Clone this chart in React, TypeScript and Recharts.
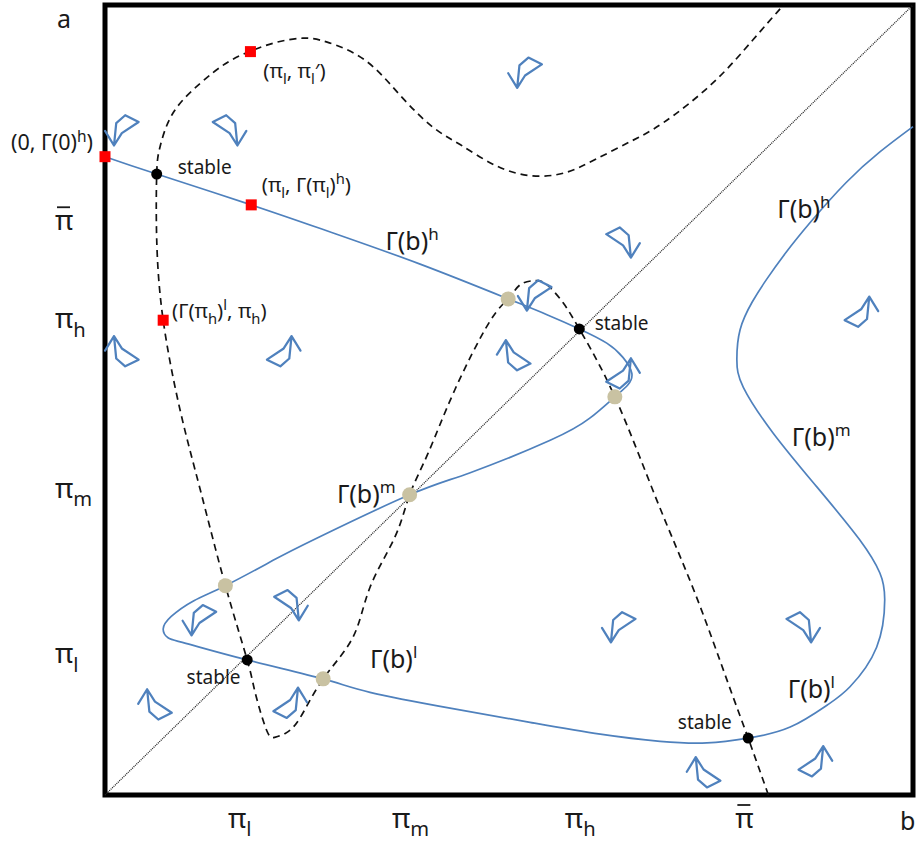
import React from 'react'
import {
  ComposedChart, Line, Scatter, XAxis, YAxis, ReferenceArea, ReferenceLine,
} from 'recharts'

const FONT = '"Noto Sans", "Open Sans", sans-serif'
const BLUE = '#4F81BD'
const INK = '#1a1a1a'

// axis ticks (positions in the 0..100 plane); "bar" is π with a macron
const X_TICKS = [16.7, 37.0, 58.4, 79.5]
const X_TICK_LABELS = ['π_{l}', 'π_{m}', 'π_{h}', 'bar']
const Y_TICKS = [17.7, 38.6, 60.1, 72.5]
const Y_TICK_LABELS = ['π_{l}', 'π_{m}', 'π_{h}', 'bar']

// dashed nullcline, traced bottom -> top
const NULLCLINE = [
  { x: 82.1, y: 0 }, { x: 79.6, y: 7.2 }, { x: 77.1, y: 14.2 }, { x: 73.0, y: 25.6 },
  { x: 68.3, y: 37.3 }, { x: 63.1, y: 50.4 }, { x: 58.7, y: 59.0 }, { x: 56.7, y: 62.3 },
  { x: 54.7, y: 64.6 }, { x: 53.2, y: 65.1 }, { x: 51.4, y: 64.6 }, { x: 49.9, y: 62.8 },
  { x: 47.6, y: 59.9 }, { x: 43.3, y: 51.3 }, { x: 40.0, y: 43.3 }, { x: 37.7, y: 38.0 },
  { x: 35.9, y: 32.7 }, { x: 32.8, y: 26.3 }, { x: 30.7, y: 20.0 }, { x: 27.0, y: 14.7 },
  { x: 24.1, y: 9.7 }, { x: 22.3, y: 7.8 }, { x: 21.0, y: 7.3 }, { x: 20.0, y: 8.2 },
  { x: 18.6, y: 12.9 }, { x: 17.6, y: 17.1 }, { x: 14.9, y: 26.5 }, { x: 11.8, y: 38.6 },
  { x: 9.3, y: 48.7 }, { x: 7.2, y: 60.1 }, { x: 6.4, y: 70.3 }, { x: 6.4, y: 78.6 },
  { x: 6.8, y: 82.0 }, { x: 8.4, y: 86.3 }, { x: 11.8, y: 90.1 }, { x: 15.1, y: 92.7 },
  { x: 18.1, y: 94.2 }, { x: 21.3, y: 95.3 }, { x: 24.5, y: 95.8 }, { x: 27.5, y: 95.3 },
  { x: 32.2, y: 93.0 }, { x: 36.5, y: 88.6 }, { x: 40.5, y: 84.6 }, { x: 44.0, y: 82.3 },
  { x: 48.3, y: 79.7 }, { x: 52.6, y: 78.4 }, { x: 56.7, y: 78.7 }, { x: 60.6, y: 80.4 },
  { x: 65.0, y: 82.7 }, { x: 69.1, y: 85.1 }, { x: 75.2, y: 90.1 }, { x: 80.2, y: 95.6 },
  { x: 83.2, y: 99.1 }, { x: 84.0, y: 100 },
]

// Γ(b): h, m and l branches as one continuous curve
const GAMMA = [
  { x: 0, y: 80.8 }, { x: 6.4, y: 78.6 }, { x: 18.1, y: 74.7 }, { x: 27.8, y: 71.3 },
  { x: 39.0, y: 67.2 }, { x: 49.9, y: 62.8 }, { x: 54.7, y: 60.8 }, { x: 58.7, y: 59.0 },
  { x: 62.1, y: 57.2 }, { x: 64.1, y: 55.4 }, { x: 65.2, y: 53.4 }, { x: 64.7, y: 51.9 },
  { x: 63.1, y: 50.4 }, { x: 60.0, y: 47.7 }, { x: 55.1, y: 44.9 }, { x: 45.2, y: 40.8 },
  { x: 37.7, y: 38.0 }, { x: 26.2, y: 32.5 }, { x: 20.8, y: 29.7 }, { x: 14.9, y: 26.5 },
  { x: 11.0, y: 24.6 }, { x: 8.2, y: 22.6 }, { x: 7.2, y: 21.0 }, { x: 7.8, y: 19.9 },
  { x: 10.0, y: 19.2 }, { x: 17.6, y: 17.1 }, { x: 27.0, y: 14.7 }, { x: 32.8, y: 13.0 },
  { x: 42.7, y: 11.0 }, { x: 52.6, y: 9.2 }, { x: 61.3, y: 7.7 }, { x: 68.7, y: 6.8 },
  { x: 74.5, y: 6.6 }, { x: 79.6, y: 7.2 }, { x: 84.8, y: 8.6 }, { x: 89.4, y: 11.4 },
  { x: 92.2, y: 13.7 }, { x: 95.5, y: 18.7 }, { x: 96.5, y: 24.7 }, { x: 95.9, y: 28.1 },
  { x: 93.4, y: 32.3 }, { x: 88.1, y: 39.0 }, { x: 82.7, y: 45.8 }, { x: 79.0, y: 51.6 },
  { x: 78.2, y: 55.1 }, { x: 78.6, y: 58.9 }, { x: 80.1, y: 62.4 }, { x: 81.9, y: 65.3 },
  { x: 84.3, y: 68.7 }, { x: 87.3, y: 72.5 }, { x: 91.7, y: 77.5 }, { x: 95.9, y: 81.4 },
  { x: 100, y: 84.6 },
]

const RED_POINTS = [
  { x: 0, y: 80.8 }, { x: 18.1, y: 74.7 }, { x: 18.0, y: 94.1 }, { x: 7.2, y: 60.1 },
]
const STABLE_POINTS = [
  { x: 6.4, y: 78.6 }, { x: 58.7, y: 59.0 }, { x: 17.6, y: 17.1 }, { x: 79.6, y: 7.2 },
]
const CROSSINGS = [
  { x: 49.9, y: 62.8 }, { x: 63.1, y: 50.4 }, { x: 37.7, y: 38.0 }, { x: 14.9, y: 26.5 },
  { x: 27.0, y: 14.7 },
]

// direction markers: sx = +1 right / -1 left, sy = +1 down / -1 up
const FLOW_ARROWS = [
  { x: 2.5, y: 84.2, sx: 1, sy: 1 }, { x: 15.0, y: 84.2, sx: -1, sy: 1 },
  { x: 52.4, y: 91.5, sx: 1, sy: 1 }, { x: 63.7, y: 70.0, sx: -1, sy: 1 },
  { x: 2.5, y: 56.1, sx: 1, sy: -1 }, { x: 21.7, y: 56.1, sx: -1, sy: -1 },
  { x: 51.0, y: 55.6, sx: 1, sy: -1 }, { x: 53.6, y: 63.3, sx: 1, sy: 1 },
  { x: 63.7, y: 53.3, sx: -1, sy: -1 }, { x: 93.2, y: 61.1, sx: -1, sy: -1 },
  { x: 12.1, y: 22.2, sx: 1, sy: 1 }, { x: 22.6, y: 24.1, sx: -1, sy: 1 },
  { x: 6.6, y: 11.4, sx: 1, sy: -1 }, { x: 22.5, y: 11.6, sx: -1, sy: -1 },
  { x: 64.0, y: 21.3, sx: 1, sy: 1 }, { x: 86.0, y: 21.3, sx: -1, sy: 1 },
  { x: 74.5, y: 2.8, sx: 1, sy: -1 }, { x: 87.5, y: 4.2, sx: -1, sy: -1 },
]

const NOTES = [
  { x: 9.0, y: 78.6, text: 'stable' },
  { x: 19.6, y: 90.8, text: '(π_{l}, π_{l}′)' },
  { x: 19.4, y: 76.3, text: '(π_{l}, Γ(π_{l})^{h})' },
  { x: 34.7, y: 69.0, text: 'Γ(b)^{h}' },
  { x: 8.3, y: 60.4, text: '(Γ(π_{h})^{l}, π_{h})' },
  { x: 60.6, y: 58.9, text: 'stable' },
  { x: 28.7, y: 37.0, text: 'Γ(b)^{m}' },
  { x: 83.2, y: 73.0, text: 'Γ(b)^{h}' },
  { x: 85.0, y: 44.2, text: 'Γ(b)^{m}' },
  { x: 32.8, y: 16.1, text: 'Γ(b)^{l}' },
  { x: 10.1, y: 14.1, text: 'stable' },
  { x: 84.5, y: 12.3, text: 'Γ(b)^{l}' },
  { x: 70.9, y: 8.4, text: 'stable' },
]
const EDGE_NOTES = [{ x: 0, y: 81.6, text: '(0, Γ(0)^{h})' }]

// turns "π_{l}" / "Γ(b)^{h}" into tspans with sub/superscripts
function rich(text: string, size: number, scriptScale = 0.7) {
  const parts = text.split(/(_\{[^}]*\}|\^\{[^}]*\})/).filter(Boolean)
  let shift = 0
  return parts.map((p, i) => {
    let target = 0
    let body = p
    let fs = size
    if (p.startsWith('_{')) { target = size * 0.3; body = p.slice(2, -1); fs = size * scriptScale }
    else if (p.startsWith('^{')) { target = -size * 0.4; body = p.slice(2, -1); fs = size * scriptScale }
    const dy = target - shift
    shift = target
    return <tspan key={i} dy={dy} fontSize={fs}>{body}</tspan>
  })
}

function PiLabel({ x, y, label }: { x: number; y: number; label: string }) {
  if (label === 'bar') {
    return (
      <g>
        <text x={x} y={y} fontFamily={FONT} fontSize={28} fill={INK}>π</text>
        <line x1={x + 2} x2={x + 15} y1={y - 23} y2={y - 23} stroke={INK} strokeWidth={1.8} />
      </g>
    )
  }
  return (
    <text x={x} y={y} fontFamily={FONT} fontSize={28} fill={INK}>
      {rich(label, 28, 0.72)}
    </text>
  )
}

function XTick(props: any) {
  const { x, y, payload } = props
  return <PiLabel x={x - 12} y={y + 33} label={X_TICK_LABELS[X_TICKS.indexOf(payload.value)]} />
}

function YTick(props: any) {
  const { x, y, payload } = props
  return <PiLabel x={x - 50} y={y + 8} label={Y_TICK_LABELS[Y_TICKS.indexOf(payload.value)]} />
}

function AxisLetter(props: any) {
  const { viewBox, text, dx, dy } = props
  return (
    <text x={viewBox.x + dx} y={viewBox.y + dy} fontFamily={FONT} fontSize={25} fill={INK}>
      {text}
    </text>
  )
}

function FlowArrow(props: any) {
  const { cx, cy, payload } = props
  return (
    <g transform={`translate(${cx},${cy}) scale(${payload.sx * 1.12},${payload.sy * 1.12})`}>
      <path
        d="M-18,1 L-10,14 L-3,3 L12,-7 L0,-13 L-8,-6 L-10,14"
        fill="none" stroke={BLUE} strokeWidth={2} strokeLinejoin="round" strokeLinecap="round"
      />
    </g>
  )
}

const Note = (props: any) => {
  const { cx, cy, payload } = props
  const gamma = payload.text.startsWith('Γ(b)')
  const size = gamma ? 25 : payload.text === 'stable' ? 19 : 20.5
  return (
    <text x={cx} y={cy} fontFamily={FONT} fontSize={size} fill={INK}>
      {rich(payload.text, size, gamma ? 0.68 : 0.72)}
    </text>
  )
}

const EdgeNote = (props: any) => {
  const { cx, cy, payload } = props
  return (
    <text x={cx - 12} y={cy} textAnchor="end" fontFamily={FONT} fontSize={21.5} fill={INK}>
      {rich(payload.text, 21.5, 0.72)}
    </text>
  )
}

const RedSquare = (props: any) => (
  <rect x={props.cx - 5.5} y={props.cy - 5.5} width={11} height={11} fill="#FF0000" />
)
const BlackDot = (props: any) => <circle cx={props.cx} cy={props.cy} r={5.5} fill="#000" />
const TanDot = (props: any) => <circle cx={props.cx} cy={props.cy} r={7.5} fill="#C9C2A2" />

export default function App() {
  return (
    <div style={{ position: 'absolute', left: 0, top: 0, width: 919, height: 848, background: '#fff' }}>
      <ComposedChart width={919} height={848} margin={{ top: 5, right: 6, bottom: 0, left: 0 }}>
        <XAxis
          type="number" dataKey="x" domain={[0, 100]} ticks={X_TICKS} interval={0}
          height={53} tickSize={0} tickMargin={0} tickLine={false} axisLine={false}
          tick={(p: any) => <XTick {...p} />}
          label={<AxisLetter text="b" dx={795} dy={35} />}
        />
        <YAxis
          type="number" dataKey="y" domain={[0, 100]} ticks={Y_TICKS} interval={0}
          width={105} tickSize={0} tickMargin={0} tickLine={false} axisLine={false}
          tick={(p: any) => <YTick {...p} />}
          label={<AxisLetter text="a" dx={57} dy={23} />}
        />
        <ReferenceArea x1={0} x2={100} y1={0} y2={100} fill="none" fillOpacity={0} stroke="#000" strokeWidth={5} />
        <ReferenceLine
          segment={[{ x: 0, y: 0 }, { x: 100, y: 100 }]}
          stroke="#222" strokeWidth={1.3} strokeDasharray="1 1"
        />
        <Line
          data={NULLCLINE} dataKey="y" type="natural" stroke="#111" strokeWidth={1.7}
          strokeDasharray="7 5" dot={false} isAnimationActive={false}
        />
        <Line
          data={GAMMA} dataKey="y" type="natural" stroke={BLUE} strokeWidth={1.7}
          dot={false} isAnimationActive={false}
        />
        <Scatter data={FLOW_ARROWS} shape={FlowArrow} isAnimationActive={false} />
        <Scatter data={CROSSINGS} shape={TanDot} isAnimationActive={false} />
        <Scatter data={STABLE_POINTS} shape={BlackDot} isAnimationActive={false} />
        <Scatter data={RED_POINTS} shape={RedSquare} isAnimationActive={false} />
        <Scatter data={NOTES} shape={Note} isAnimationActive={false} />
        <Scatter data={EDGE_NOTES} shape={EdgeNote} isAnimationActive={false} />
      </ComposedChart>
    </div>
  )
}
